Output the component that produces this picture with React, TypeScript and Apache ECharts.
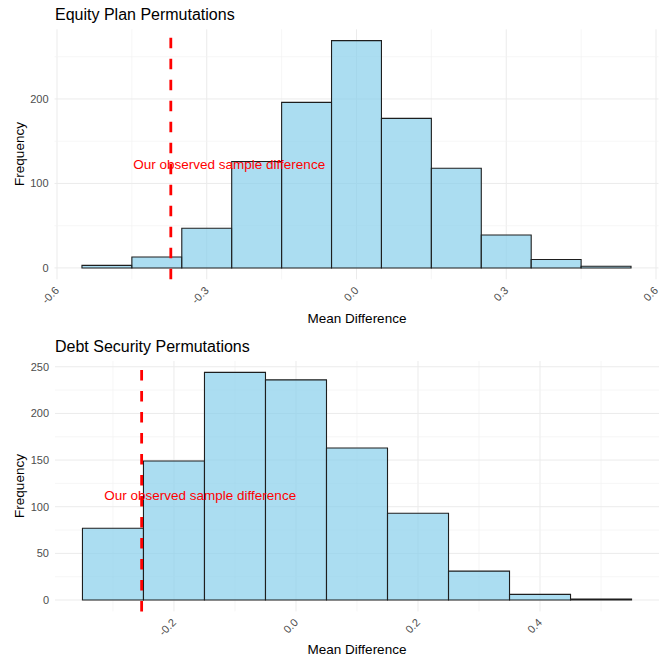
import React, { useEffect, useRef } from "react";
import * as echarts from "echarts";

// ---- Data ----
const BIN_WIDTH = 0.1;

const equityBinCenters = [-0.5, -0.4, -0.3, -0.2, -0.1, 0.0, 0.1, 0.2, 0.3, 0.4, 0.5];
const equityCounts = [3, 13, 47, 126, 196, 269, 177, 118, 39, 10, 2];
const equityObserved = -0.372;
const equityLabelPos = [-0.255, 123];

const debtBinCenters = [-0.3, -0.2, -0.1, 0.0, 0.1, 0.2, 0.3, 0.4, 0.5];
const debtCounts = [77, 149, 244, 236, 163, 93, 31, 6, 1];
const debtObserved = -0.253;
const debtLabelPos = [-0.157, 112];

const equityXTicks = [-0.6, -0.3, 0.0, 0.3, 0.6];
const equityXMinor = [-0.45, -0.15, 0.15, 0.45];
const equityYTicks = [0, 100, 200];
const equityYMinor = [50, 150, 250];

const debtXTicks = [-0.2, 0.0, 0.2, 0.4];
const debtXMinor = [-0.3, -0.1, 0.1, 0.3, 0.5];
const debtYTicks = [0, 50, 100, 150, 200, 250];
const debtYMinor = [25, 75, 125, 175, 225];

const labelText = "Our observed sample difference";

const FONT = '"Liberation Sans", Arial, Helvetica, sans-serif';

function expand(lo: number, hi: number) {
  const d = (hi - lo) * 0.05;
  return [lo - d, hi + d];
}

function buildPanel(
  idx: number,
  centers: number[],
  counts: number[],
  observed: number,
  labelPos: number[],
  xTicks: number[],
  xMinor: number[],
  yTicks: number[],
  yMinor: number[]
) {
  const bins = centers.map((c, i) => [c - BIN_WIDTH / 2, c + BIN_WIDTH / 2, counts[i]]);
  const xLo = Math.min(bins[0][0], observed);
  const xHi = Math.max(bins[bins.length - 1][1], observed);
  const [xMin, xMax] = expand(xLo, xHi);
  const [yMin, yMax] = expand(0, Math.max(...counts));

  const xAxis = {
    gridIndex: idx,
    type: "value",
    min: xMin,
    max: xMax,
    axisLine: { show: false },
    axisTick: { show: false },
    splitLine: { show: false },
    axisLabel: {
      customValues: xTicks,
      formatter: (v: number) => v.toFixed(1),
      rotate: 45,
      margin: 9,
      color: "#4d4d4d",
      fontSize: 11,
      fontFamily: FONT,
      hideOverlap: false,
    },
  };
  const yAxis = {
    gridIndex: idx,
    type: "value",
    min: yMin,
    max: yMax,
    axisLine: { show: false },
    axisTick: { show: false },
    splitLine: { show: false },
    axisLabel: {
      customValues: yTicks,
      formatter: (v: number) => String(Math.round(v)),
      margin: 6,
      color: "#4d4d4d",
      fontSize: 11,
      fontFamily: FONT,
    },
  };

  const xGridData = [...xTicks.map((v) => [v, 1]), ...xMinor.map((v) => [v, 0])];
  const yGridData = [...yTicks.map((v) => [v, 1]), ...yMinor.map((v) => [v, 0])];

  const series = [
    {
      type: "custom",
      xAxisIndex: idx,
      yAxisIndex: idx,
      silent: true,
      clip: false,
      encode: { x: 0 },
      data: xGridData,
      renderItem: (params: any, api: any) => {
        const cs = params.coordSys;
        const p = api.coord([api.value(0), 0]);
        const major = api.value(1) === 1;
        return {
          type: "line",
          shape: { x1: p[0], y1: cs.y, x2: p[0], y2: cs.y + cs.height },
          style: { stroke: major ? "#ebebeb" : "#f2f2f2", lineWidth: major ? 1 : 0.7 },
        };
      },
    },
    {
      type: "custom",
      xAxisIndex: idx,
      yAxisIndex: idx,
      silent: true,
      clip: false,
      encode: { y: 0 },
      data: yGridData,
      renderItem: (params: any, api: any) => {
        const cs = params.coordSys;
        const p = api.coord([0, api.value(0)]);
        const major = api.value(1) === 1;
        return {
          type: "line",
          shape: { x1: cs.x, y1: p[1], x2: cs.x + cs.width, y2: p[1] },
          style: { stroke: major ? "#ebebeb" : "#f2f2f2", lineWidth: major ? 1 : 0.7 },
        };
      },
    },
    {
      type: "custom",
      xAxisIndex: idx,
      yAxisIndex: idx,
      silent: true,
      encode: { x: [0, 1], y: 2 },
      data: bins,
      renderItem: (params: any, api: any) => {
        const a = api.coord([api.value(0), api.value(2)]);
        const b = api.coord([api.value(1), 0]);
        return {
          type: "rect",
          shape: { x: a[0], y: a[1], width: b[0] - a[0], height: b[1] - a[1] },
          style: { fill: "rgba(135,206,235,0.7)", stroke: "#1e1e1e", lineWidth: 1.1 },
        };
      },
    },
    {
      type: "custom",
      xAxisIndex: idx,
      yAxisIndex: idx,
      silent: true,
      clip: false,
      encode: { x: 0 },
      data: [[observed]],
      renderItem: (params: any, api: any) => {
        const cs = params.coordSys;
        const p = api.coord([api.value(0), 0]);
        return {
          type: "line",
          shape: { x1: p[0], y1: cs.y + cs.height, x2: p[0], y2: cs.y },
          style: { stroke: "#ff0000", lineWidth: 2.8, lineDash: [10.5, 10.5] },
        };
      },
    },
    {
      type: "custom",
      xAxisIndex: idx,
      yAxisIndex: idx,
      silent: true,
      clip: false,
      encode: { x: 0, y: 1 },
      data: [labelPos],
      renderItem: (params: any, api: any) => {
        const p = api.coord([api.value(0), api.value(1)]);
        return {
          type: "text",
          x: p[0],
          y: p[1],
          style: {
            text: labelText,
            fill: "#ff0000",
            fontSize: 13.5,
            fontFamily: FONT,
            align: "center",
            verticalAlign: "middle",
          },
        };
      },
    },
  ];
  return { xAxis, yAxis, series };
}

export default function App() {
  const ref = useRef<HTMLDivElement>(null);
  useEffect(() => {
    if (!ref.current) return;
    const chart = echarts.init(ref.current, null, { renderer: "svg" });
    const p0 = buildPanel(0, equityBinCenters, equityCounts, equityObserved, equityLabelPos,
      equityXTicks, equityXMinor, equityYTicks, equityYMinor);
    const p1 = buildPanel(1, debtBinCenters, debtCounts, debtObserved, debtLabelPos,
      debtXTicks, debtXMinor, debtYTicks, debtYMinor);

    const textStyle = (size: number) => ({ fontSize: size, fontFamily: FONT, fill: "#000" });

    chart.setOption({
      animation: false,
      backgroundColor: "#ffffff",
      grid: [
        { left: 54.5, top: 29.3, width: 605.6, height: 250 },
        { left: 55, top: 361, width: 604, height: 250.4 },
      ],
      xAxis: [p0.xAxis, p1.xAxis],
      yAxis: [p0.yAxis, p1.yAxis],
      series: [...p0.series, ...p1.series],
      graphic: [
        { type: "text", x: 55, y: 14, style: { text: "Equity Plan Permutations", ...textStyle(16), align: "left", verticalAlign: "middle" } },
        { type: "text", x: 55, y: 346, style: { text: "Debt Security Permutations", ...textStyle(16), align: "left", verticalAlign: "middle" } },
        { type: "text", x: 357, y: 318.5, style: { text: "Mean Difference", ...textStyle(13.5), align: "center", verticalAlign: "middle" } },
        { type: "text", x: 357, y: 649.5, style: { text: "Mean Difference", ...textStyle(13.5), align: "center", verticalAlign: "middle" } },
        { type: "text", x: 19.5, y: 154, rotation: Math.PI / 2, style: { text: "Frequency", ...textStyle(13.5), align: "center", verticalAlign: "middle" } },
        { type: "text", x: 19.5, y: 486, rotation: Math.PI / 2, style: { text: "Frequency", ...textStyle(13.5), align: "center", verticalAlign: "middle" } },
      ],
    });
    return () => chart.dispose();
  }, []);
  return (
    <div
      ref={ref}
      style={{ position: "absolute", left: 0, top: 0, width: 662, height: 659 }}
    />
  );
}
